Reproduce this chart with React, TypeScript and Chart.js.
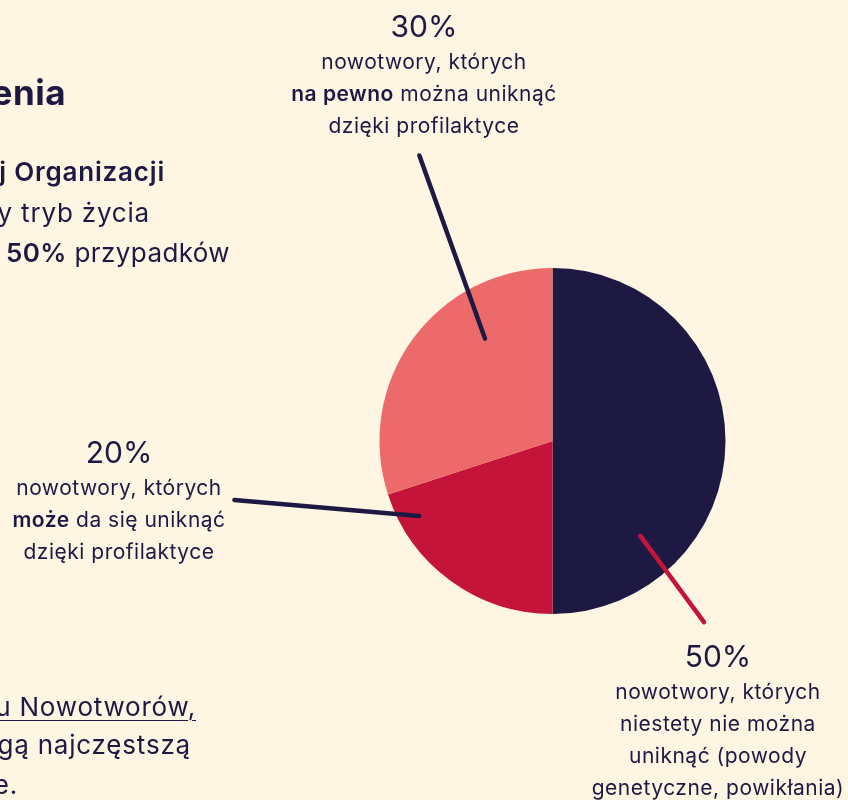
import React, { useEffect, useRef } from "react";
import { Chart, registerables } from "chart.js";

Chart.register(...registerables);

// ---- data ----
const categories = [
  "nowotwory, których niestety nie można uniknąć",
  "nowotwory, których może da się uniknąć",
  "nowotwory, których na pewno można uniknąć",
];
const shares = [50, 20, 30];
const sliceColors = ["#1E1942", "#C5143A", "#ED6A6B"];
const leaderColors = ["#C5143A", "#1E1942", "#1E1942"];
// leader lines, polar (degrees clockwise from +x, radius as fraction of pie radius)
const leaderInner = [
  [47.2, 0.747],
  [150.6, 0.884],
  [236.6, 0.709],
];
const leaderOuter = [
  [50.1, 1.365],
  [169.5, 1.87],
  [245.0, 1.821],
];

const BG = "#FEF5E3";
const INK = "#1E1942";
const FONT = "Inter, 'Open Sans', sans-serif";

const leaderPlugin = {
  id: "leaders",
  afterDatasetsDraw(chart: any) {
    const meta = chart.getDatasetMeta(0);
    const ctx = chart.ctx;
    meta.data.forEach((arc: any, i: number) => {
      const { x, y, outerRadius } = arc.getProps(["x", "y", "outerRadius"], true);
      const p = (a: number[]) => {
        const rad = (a[0] * Math.PI) / 180;
        return [x + Math.cos(rad) * a[1] * outerRadius, y + Math.sin(rad) * a[1] * outerRadius];
      };
      const [x1, y1] = p(leaderInner[i]);
      const [x2, y2] = p(leaderOuter[i]);
      ctx.save();
      ctx.strokeStyle = leaderColors[i];
      ctx.lineWidth = 4.5;
      ctx.lineCap = "round";
      ctx.beginPath();
      ctx.moveTo(x1, y1);
      ctx.lineTo(x2, y2);
      ctx.stroke();
      ctx.restore();
    });
  },
};

function PieChart() {
  const ref = useRef<HTMLCanvasElement>(null);
  useEffect(() => {
    if (!ref.current) return;
    const chart = new Chart(ref.current, {
      type: "pie",
      data: {
        labels: categories,
        datasets: [
          {
            data: shares,
            backgroundColor: sliceColors,
            borderWidth: 0,
          },
        ],
      },
      options: {
        responsive: false,
        animation: false,
        events: [],
        layout: { padding: { left: 379, right: 122, top: 268, bottom: 186 } },
        plugins: { legend: { display: false }, tooltip: { enabled: false } },
      },
      plugins: [leaderPlugin],
    });
    return () => chart.destroy();
  }, []);
  return (
    <canvas
      ref={ref}
      width={848}
      height={800}
      style={{ position: "absolute", left: 0, top: 0, width: 848, height: 800 }}
    />
  );
}

const pct: React.CSSProperties = { fontSize: 30, lineHeight: "40px", fontWeight: 400 };
const body: React.CSSProperties = { fontSize: 21, lineHeight: "32px", letterSpacing: "0.5px" };

function Label({ cx, top, percent, lines }: { cx: number; top: number; percent: string; lines: React.ReactNode[] }) {
  return (
    <div
      style={{
        position: "absolute",
        left: cx - 200,
        width: 400,
        top,
        textAlign: "center",
        color: INK,
        whiteSpace: "nowrap",
      }}
    >
      <div style={pct}>{percent}</div>
      {lines.map((l, i) => (
        <div key={i} style={body}>
          {l}
        </div>
      ))}
    </div>
  );
}

function Side({ right, cy, size, weight, children, lh, ls }: any) {
  return (
    <div
      style={{
        position: "absolute",
        right: 848 - right,
        top: cy - lh / 2,
        fontSize: size,
        lineHeight: lh + "px",
        fontWeight: weight,
        letterSpacing: ls,
        whiteSpace: "nowrap",
        color: INK,
      }}
    >
      {children}
    </div>
  );
}

export default function App() {
  return (
    <div
      style={{
        position: "fixed",
        left: 0,
        top: 0,
        width: 848,
        height: 800,
        overflow: "hidden",
        background: BG,
        fontFamily: FONT,
      }}
    >
      <PieChart />
      <Side right={66} cy={92} size={35} weight={700} lh={44} ls="0.5px">
        enia
      </Side>
      <Side right={165} cy={172} size={26} weight={600} lh={40} ls="0.8px">
        j Organizacji
      </Side>
      <Side right={150} cy={213} size={26} weight={400} lh={40} ls="0.8px">
        y tryb życia
      </Side>
      <Side right={230} cy={253} size={26} weight={400} lh={40} ls="0.4px">
        <b style={{ fontWeight: 600 }}>50%</b> przypadków
      </Side>
      <Side right={196} cy={707} size={26} weight={400} lh={40} ls="0.8px">
        <span style={{ textDecoration: "underline", textDecorationThickness: 1, textUnderlineOffset: 4 }}>
          u Nowotworów,
        </span>
      </Side>
      <Side right={191} cy={745} size={26} weight={400} lh={40} ls="0.8px">
        gą najczęstszą
      </Side>
      <Side right={18} cy={785} size={26} weight={400} lh={40} ls="0.8px">
        e.
      </Side>
      <Label
        cx={424}
        top={6}
        percent="30%"
        lines={[
          "nowotwory, których",
          <>
            <b style={{ fontWeight: 600 }}>na pewno</b> można uniknąć
          </>,
          "dzięki profilaktyce",
        ]}
      />
      <Label
        cx={119}
        top={432}
        percent="20%"
        lines={[
          "nowotwory, których",
          <>
            <b style={{ fontWeight: 600 }}>może</b> da się uniknąć
          </>,
          "dzięki profilaktyce",
        ]}
      />
      <Label
        cx={718}
        top={636}
        percent="50%"
        lines={[
          "nowotwory, których",
          "niestety nie można",
          "uniknąć (powody",
          "genetyczne, powikłania)",
        ]}
      />
    </div>
  );
}
